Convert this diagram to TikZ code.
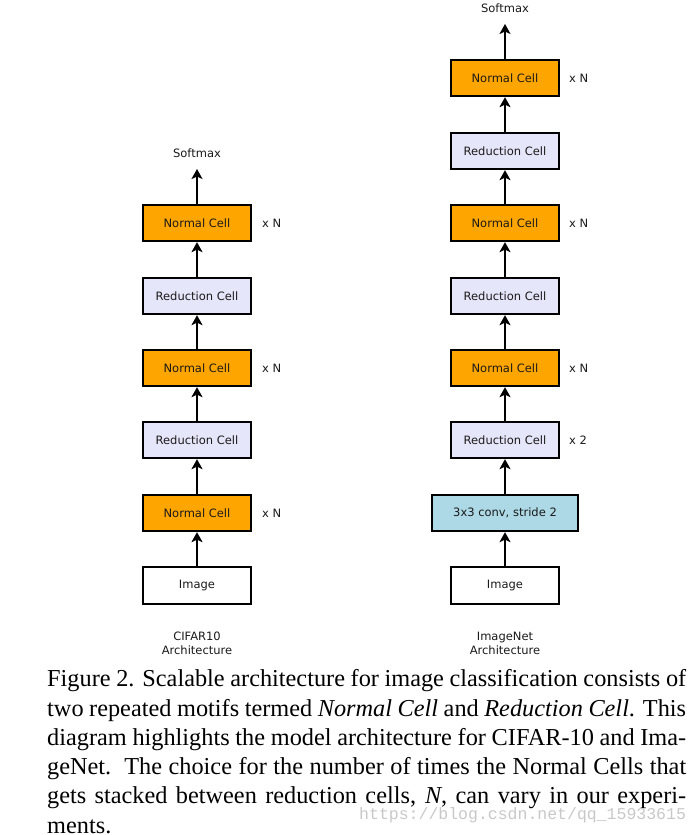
\documentclass[tikz,border=0pt]{standalone}
\usepackage{fontspec}
\setmainfont{Liberation Serif}
\newfontfamily\dejavu{DejaVu Sans}
\newfontfamily\wmfont{Liberation Mono}
\usetikzlibrary{arrows.meta}
\definecolor{cellorange}{HTML}{FFA500}
\definecolor{celllav}{HTML}{E6E6FA}
\definecolor{cellblue}{HTML}{ADD8E6}
\definecolor{txtc}{HTML}{1A1A1A}
\definecolor{wmgray}{HTML}{C8C8C8}
\tikzset{
  cellbox/.style={draw=black, line width=1.8pt, minimum width=108.5pt, minimum height=36.5pt, inner sep=0pt, text=txtc, font=\dejavu\fontsize{11.5}{13}\selectfont},
  normalcell/.style={cellbox, fill=cellorange},
  redcell/.style={cellbox, fill=celllav},
  convcell/.style={cellbox, fill=cellblue, minimum width=146pt},
  imgcell/.style={cellbox, fill=white},
  lbl/.style={inner sep=0pt, text=txtc, font=\dejavu\fontsize{11.5}{14}\selectfont},
  arr/.style={-{Stealth[length=10pt,width=11pt,inset=2.5pt]}, line width=1.8pt},
  capline/.style={anchor=base west, inner sep=0pt, font=\fontsize{24.3}{29.3}\selectfont},
}
\begin{document}
\begin{tikzpicture}[x=1pt,y=-1pt]
\useasboundingbox (0,0) rectangle (700,835);
% left column (CIFAR10)
\node[imgcell]    (L0) at (197,585.5) {Image};
\node[normalcell] (L1) at (197,513) {Normal Cell};
\node[redcell]    (L2) at (197,440) {Reduction Cell};
\node[normalcell] (L3) at (197,368) {Normal Cell};
\node[redcell]    (L4) at (197,296) {Reduction Cell};
\node[normalcell] (L5) at (197,223) {Normal Cell};
\node[lbl] (LS) at (197,153) {Softmax};
\coordinate (LT) at (197,169);
\node[lbl, anchor=west] (LN1) at (262,513) {x N};
\node[lbl, anchor=west] (LN3) at (262,368) {x N};
\node[lbl, anchor=west] (LN5) at (262,223) {x N};
\node[lbl, align=center, font=\dejavu\fontsize{11.5}{14}\selectfont] (LC) at (197,643) {CIFAR10\\Architecture};
\draw[arr] (L0.north) -- (L1.south);
\draw[arr] (L1.north) -- (L2.south);
\draw[arr] (L2.north) -- (L3.south);
\draw[arr] (L3.north) -- (L4.south);
\draw[arr] (L4.north) -- (L5.south);
\draw[arr] (L5.north) -- (LT);
% right column (ImageNet)
\node[imgcell]    (R0) at (505,585.5) {Image};
\node[convcell]   (R1) at (505,513) {3x3 conv, stride 2};
\node[redcell]    (R2) at (505,440) {Reduction Cell};
\node[normalcell] (R3) at (505,368) {Normal Cell};
\node[redcell]    (R4) at (505,296) {Reduction Cell};
\node[normalcell] (R5) at (505,223) {Normal Cell};
\node[redcell]    (R6) at (505,151) {Reduction Cell};
\node[normalcell] (R7) at (505,78) {Normal Cell};
\node[lbl] (RS) at (505,8) {Softmax};
\coordinate (RT) at (505,24);
\node[lbl, anchor=west] (RN2) at (569,440) {x 2};
\node[lbl, anchor=west] (RN3) at (569,368) {x N};
\node[lbl, anchor=west] (RN5) at (569,223) {x N};
\node[lbl, anchor=west] (RN7) at (569,78) {x N};
\node[lbl, align=center, font=\dejavu\fontsize{11.5}{14}\selectfont] (RC) at (505,643) {ImageNet\\Architecture};
\draw[arr] (R0.north) -- (R1.south);
\draw[arr] (R1.north) -- (R2.south);
\draw[arr] (R2.north) -- (R3.south);
\draw[arr] (R3.north) -- (R4.south);
\draw[arr] (R4.north) -- (R5.south);
\draw[arr] (R5.north) -- (R6.south);
\draw[arr] (R6.north) -- (R7.south);
\draw[arr] (R7.north) -- (RT);
% caption
\node[capline] (C1) at (47,686.7) {\makebox[639pt][s]{Figure 2. Scalable architecture for image classification consists of}};
\node[capline] (C2) at (47,716.0) {\makebox[639pt][s]{two repeated motifs termed \textit{Normal Cell} and \textit{Reduction Cell}. This}};
\node[capline] (C3) at (47,745.3) {\makebox[639pt][s]{diagram highlights the model architecture for CIFAR-10 and Ima-}};
\node[capline] (C4) at (47,774.6) {\makebox[639pt][s]{geNet.\ \ The choice for the number of times the Normal Cells that}};
\node[capline] (C5) at (47,803.9) {\makebox[639pt][s]{gets stacked between reduction cells, \textit{N}, can vary in our experi-}};
\node[capline] (C6) at (47,833.2) {ments.};
\node[anchor=base west, inner sep=0pt, text=wmgray, font=\wmfont\fontsize{16.5}{18}\selectfont] (WM) at (359,819) {https://blog.csdn.net/qq\_15933615};
\end{tikzpicture}
\end{document}
